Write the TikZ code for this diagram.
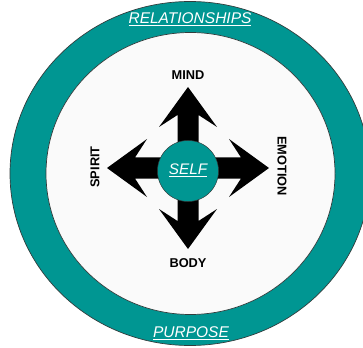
\documentclass[tikz,border=0pt]{standalone}
\usepackage{fontspec}
\setmainfont{Liberation Sans}
\definecolor{teal1}{RGB}{0,150,146}
\definecolor{innerbg}{RGB}{250,250,250}
\definecolor{rim}{RGB}{50,60,60}
\newcommand\thickul[1]{\setbox0\hbox{#1}\rlap{\rule[-2.6pt]{\wd0}{1.1pt}}\box0}
\begin{document}
\begin{tikzpicture}[x=1pt,y=-1pt,
  ring/.style={draw=rim,line width=0.7pt},
  dirlabel/.style={font=\fontsize{12.8}{15}\selectfont\bfseries,text=black,inner sep=0pt},
  bandlabel/.style={font=\fontsize{15.5}{18}\selectfont\itshape,text=white,inner sep=0pt}]
\useasboundingbox (0,0) rectangle (363,347);
\begin{scope}
\clip (0,0) rectangle (363,347);
\fill[teal1,ring] (190,173.5) ellipse [x radius=180, y radius=172];
\end{scope}
\fill[innerbg,ring] (190.5,173.5) ellipse [x radius=144.5, y radius=141];
\coordinate (c) at (188,168);
\fill[black] ([shift={(0,-81)}]c) -- ++(29,40) -- ++(-18.5,-12) -- ++(0,42.5) -- ++(42.5,0)
  -- ++(-12,-18.5) -- ++(40,29) -- ++(-40,29) -- ++(12,-18.5) -- ++(-42.5,0)
  -- ++(0,42.5) -- ++(18.5,-12) -- ++(-29,40) -- ++(-29,-40) -- ++(18.5,12)
  -- ++(0,-42.5) -- ++(-42.5,0) -- ++(12,18.5) -- ++(-40,-29) -- ++(40,-29)
  -- ++(-12,18.5) -- ++(42.5,0) -- ++(0,-42.5) -- ++(-18.5,12) -- cycle;
\node[circle,minimum size=61pt,fill=teal1,draw=rim,line width=0.5pt,inner sep=0pt] (self) at (188,171) {};
\node[bandlabel,font=\fontsize{15.3}{18}\selectfont\itshape] (selft) at (188,170) {\thickul{SELF}};
\node[dirlabel] (mind) at (188,75) {MIND};
\node[dirlabel] (body) at (188,263) {BODY};
\node[dirlabel,rotate=90] (spirit) at (95,167) {SPIRIT};
\node[dirlabel,rotate=-90] (emotion) at (282,166) {EMOTION};
\node[bandlabel] (rel) at (190,19) {\thickul{RELATIONSHIPS}};
\node[bandlabel] (pur) at (191,333) {\thickul{PURPOSE}};
\end{tikzpicture}
\end{document}
